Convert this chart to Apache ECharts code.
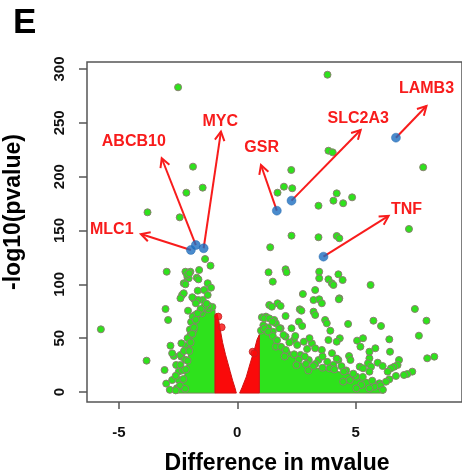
<!DOCTYPE html>
<html><head><meta charset="utf-8">
<script src="https://cdn.jsdelivr.net/npm/echarts@6/dist/echarts.min.js"></script>
<style>html,body{margin:0;padding:0;background:#fff}#c{width:462px;height:474px}</style>
</head><body><div id="c"></div>
<script>
// ---- tick labels ----
const xTicks = [-5, 0, 5];
const yTicks = [0, 50, 100, 150, 200, 250, 300];

// ---- highlighted genes ----
const geneNames = ['MLC1', 'ABCB10', 'MYC', 'GSR', 'SLC2A3', 'LAMB3', 'TNF'];
const geneX = [-1.96, -1.75, -1.42, 1.67, 2.29, 6.70, 3.64];
const geneY = [131.9, 136.5, 133.5, 168.4, 177.7, 236.2, 125.7];
const arrowTipX = [-4.07, -3.19, -0.69, 1.00, 5.21, 7.99, 6.39];
const arrowTipY = [146.7, 217.1, 241.8, 210.8, 243.3, 265.6, 163.5];
const labelX = [-5.30, -4.37, -0.72, 1.03, 5.11, 7.99, 7.15];
const labelY = [151.1, 233.0, 251.0, 226.9, 253.6, 282.1, 169.7];

// ---- significant (green) genes, sparse part ----
const greenPoints = [
  [-2.50,283.0],[3.81,294.7],[3.85,224.1],[4.03,222.6],[7.85,208.7],
  [-1.87,209.3],[-2.15,185.1],[-1.46,189.8],[-3.79,166.9],[-2.43,162.2],[-1.36,123.5],[-1.13,117.3],
  [-2.98,111.7],[-2.19,111.7],[-1.98,111.7],[-1.61,113.3],[-2.10,106.2],[-1.71,106.2],[-2.05,105.6],[-1.64,104.6],[-2.12,108.7],[-2.03,110.2],
  [-2.26,101.0],[-2.19,100.0],[-1.25,101.0],[-1.11,96.9],[-1.67,94.1],[-1.40,94.7],
  [-2.33,90.1],[-2.26,91.7],[-2.40,87.0],[-1.25,90.1],[-1.82,86.1],[-1.90,88.0],[-1.46,85.4],[-1.64,85.4],[-1.75,82.4],
  [-3.03,77.1],[-2.08,75.5],[-1.22,76.8],[-1.78,71.5],[-1.50,73.1],[-2.92,66.9],[-5.76,58.2],[-1.85,57.6],
  [-2.82,43.0],[-2.17,42.7],[-2.05,39.0],[-3.83,29.1],[-2.68,33.4],[-2.36,32.8],[-2.75,35.9],[-2.40,34.4],[-2.36,45.2],[-1.98,52.9],
  [-3.07,20.4],[-3.00,7.8],[-2.58,25.1],[-2.40,25.1],[-2.47,18.9],[-2.75,11.1],[-2.47,11.1],
  [-2.55,3.5],[-2.30,20.0],[-2.20,30.0],[-2.25,38.0],[-2.10,50.0],[-2.00,58.0],[-1.95,65.0],[-1.88,70.0],[-2.60,15.0],[-2.85,2.0],
  [-1.05,79.0],[-1.20,80.0],[-1.40,79.0],[-1.55,77.0],[-1.68,73.0],[-1.75,67.0],[-1.83,60.0],[-1.90,54.0],[-1.97,46.0],[-2.03,38.0],
  [-2.10,29.0],[-2.17,21.0],[-2.28,12.0],[-2.42,6.0],[-2.60,1.5],[-2.20,3.0],[-1.30,82.0],
  [2.28,206.2],[1.70,185.1],[1.97,190.7],[2.32,189.2],[3.43,173.0],[4.06,177.7],[4.20,184.5],[4.47,175.3],[4.85,180.8],[7.25,151.4],
  [2.29,145.2],[3.43,143.7],[4.20,144.9],[4.31,142.8],[1.39,134.4],
  [1.32,111.2],[1.50,102.5],[2.04,114.0],[2.08,111.2],[3.46,111.7],[3.46,105.6],[3.85,104.7],[3.99,101.0],[4.06,99.4],[4.27,109.3],[4.45,104.0],
  [5.63,99.4],[7.50,77.1],[4.31,87.0],[2.77,91.0],[3.29,94.7],[3.22,85.4],[3.46,86.1],[3.57,82.4],[4.29,86.1],[2.64,76.8],
  [1.35,80.8],[1.46,79.2],[1.70,82.4],[1.83,79.9],
  [1.04,69.4],[1.21,70.0],[1.56,66.9],[1.63,63.8],[2.04,70.6],[2.71,75.5],[3.22,74.6],[3.29,71.5],[2.60,65.3],[1.83,59.2],[2.29,59.2],[2.74,61.3],
  [3.71,66.9],[3.78,63.8],[3.93,56.9],[4.33,49.9],[2.04,51.4],[2.39,48.3],[2.53,43.7],[2.81,46.7],[3.15,45.2],[3.29,40.6],[3.57,39.0],[3.85,48.3],
  [1.63,42.1],[2.11,35.9],[3.02,29.7],[3.43,29.7],[2.67,34.4],[4.06,25.1],
  [1.14,68.4],[1.35,68.4],[1.49,65.3],[1.77,59.2],
  [7.99,66.2],[5.75,66.2],[6.07,61.3],[4.68,63.2],[7.67,52.3],[4.20,46.7],[5.06,47.7],[5.20,42.1],[6.42,48.9],[5.83,40.6],[6.45,37.4],
  [8.02,31.3],[8.32,32.8],[4.72,33.4],[4.78,29.7],[4.27,29.7],[5.58,31.3],[5.52,26.7],[5.93,27.2],[6.14,24.1],[6.83,29.7],[6.77,25.1],
  [6.63,23.5],[6.49,22.0],[6.35,18.9],[5.17,23.5],[5.31,22.0],[5.65,23.5],[5.58,18.9],[7.39,18.9],[7.18,16.7],[7.04,15.8],[6.70,14.9],
  [6.42,11.8],[6.28,9.6],[6.00,8.1],[5.80,4.9],[5.58,3.4],[5.03,14.2],[4.75,11.1],[4.47,9.6],[5.24,6.5],[5.03,3.4],
  [1.10,62.0],[1.30,60.0],[1.50,56.0],[1.95,53.0],[2.20,46.0],[2.45,52.0],[2.95,40.0],[3.05,50.0],[3.60,33.0],[3.80,28.0],[4.00,36.0],
  [4.20,31.0],[4.40,24.0],[3.30,26.0],[2.85,33.0],[3.90,22.0],[4.60,20.0],[5.31,49.9],[5.58,37.4],
  [1.00,57.0],[1.15,59.0],[1.30,56.0],[1.50,52.0],[1.68,48.0],[1.85,42.0],[2.05,39.0],[2.40,35.0],[2.60,30.0],[2.90,26.0],[3.20,24.0],
  [3.60,22.5],[4.10,21.0],[4.50,19.0],[4.90,17.0],[5.30,14.0],[5.70,10.5],[6.05,6.0],[6.15,2.0],[3.00,20.0],[2.50,25.0],[2.00,33.0]
];
// ---- dense cores (outline of the packed point clouds) ----
const greenCoreLeft = [[-0.94,-1],[-0.94,76],[-1.10,78],[-1.35,78],[-1.60,76],[-1.72,70],[-1.82,62],[-1.92,52],[-2.00,42],[-2.08,32],[-2.15,22],[-2.25,13],[-2.40,6],[-2.60,1],[-2.65,-1]];
const greenCoreRight = [[0.93,-1],[0.93,55],[1.10,57],[1.25,55],[1.45,51],[1.63,47],[1.80,41],[1.95,38],[2.30,34],[2.70,27],[3.10,23],[3.50,21.5],[4.00,20],[4.60,17.5],[5.00,15.5],[5.50,11.5],[5.90,8.5],[6.10,4],[6.20,-1]];
const redCoreLeft = [[-0.94,-1],[-0.94,72],[-0.86,73],[-0.78,66],[-0.72,58],[-0.62,46],[-0.50,35],[-0.40,27],[-0.30,19],[-0.20,11],[-0.10,4],[-0.04,-1]];
const redCoreRight = [[0.10,-1],[0.20,4],[0.38,14],[0.55,27],[0.72,39],[0.84,49],[0.93,53],[0.93,-1]];
// ---- non-significant (red) genes, sparse part ----
const redPoints = [[-0.66,60.1],[-0.80,70.0],[0.65,37.4],[0.72,35.9]];

const FONT = '"Liberation Sans", Arial, Helvetica, sans-serif';
const chart = echarts.init(document.getElementById('c'));

function polySeries(pts, fill, stroke, z) {
  return {
    type: 'custom', coordinateSystem: 'cartesian2d', data: [[pts[0][0], pts[0][1]]], silent: true, clip: false, z: z,
    renderItem: (params, api) => ({
      type: 'polygon',
      shape: { points: pts.map(p => api.coord(p)) },
      style: { fill: fill, stroke: stroke, lineWidth: 1 }
    })
  };
}

const arrowData = geneNames.map((n, i) => [geneX[i], geneY[i], arrowTipX[i], arrowTipY[i], labelX[i], labelY[i]]);

chart.setOption({
  animation: false,
  backgroundColor: '#fff',
  grid: { left: 87, top: 62, width: 380, height: 340, show: true, borderColor: '#555', borderWidth: 1.5, backgroundColor: 'transparent' },
  xAxis: {
    type: 'value', min: -6.346, max: 9.49,
    axisLine: { show: false, onZero: false }, splitLine: { show: false },
    axisTick: { show: true, customValues: xTicks, length: 7, lineStyle: { color: '#555', width: 1.5 } },
    axisLabel: { customValues: xTicks, fontSize: 15, fontWeight: 'bold', color: '#111', fontFamily: FONT, margin: 23 }
  },
  yAxis: {
    type: 'value', min: -9.3, max: 306.5,
    axisLine: { show: false, onZero: false }, splitLine: { show: false },
    axisTick: { show: true, customValues: yTicks, length: 8, lineStyle: { color: '#555', width: 1.5 } },
    axisLabel: { customValues: yTicks, rotate: 90, fontSize: 15, fontWeight: 'bold', color: '#111', fontFamily: FONT, margin: 20 }
  },
  graphic: [
    { type: 'text', left: 13, top: 6, style: { text: 'E', font: 'bold 35px ' + FONT, fill: '#000' } },
    { type: 'text', x: 14, y: 212, rotation: Math.PI / 2, style: { text: '-log10(pvalue)', font: 'bold 23px ' + FONT, fill: '#000', align: 'center', verticalAlign: 'middle' } },
    { type: 'text', x: 277, y: 464, style: { text: 'Difference in mvalue', font: 'bold 23px ' + FONT, fill: '#000', align: 'center', verticalAlign: 'middle' } }
  ],
  series: [
    polySeries(greenCoreLeft, '#2ee21c', '#6f8a50', 1),
    polySeries(greenCoreRight, '#2ee21c', '#6f8a50', 1),
    {
      type: 'scatter', data: greenPoints, symbolSize: 7, z: 2,
      itemStyle: { color: '#2ee21c', borderColor: '#8a8070', borderWidth: 1, opacity: 1 }
    },
    polySeries(redCoreLeft, '#fa0a0a', '#d01010', 3),
    polySeries(redCoreRight, '#fa0a0a', '#d01010', 3),
    {
      type: 'scatter', data: redPoints, symbolSize: 7, z: 3,
      itemStyle: { color: '#fa0a0a', borderColor: '#c02020', borderWidth: 1 }
    },
    {
      type: 'custom', coordinateSystem: 'cartesian2d', data: arrowData, clip: false, z: 5, silent: true,
      encode: { x: 0, y: 1 },
      renderItem: (params, api) => {
        const p0 = api.coord([api.value(0), api.value(1)]);
        const p1 = api.coord([api.value(2), api.value(3)]);
        const pl = api.coord([api.value(4), api.value(5)]);
        const ang = Math.atan2(p1[1] - p0[1], p1[0] - p0[0]);
        const L = 10, a = 0.5;
        const h1 = [p1[0] - L * Math.cos(ang - a), p1[1] - L * Math.sin(ang - a)];
        const h2 = [p1[0] - L * Math.cos(ang + a), p1[1] - L * Math.sin(ang + a)];
        const red = '#f81c1c';
        return {
          type: 'group', children: [
            { type: 'line', shape: { x1: p0[0], y1: p0[1], x2: p1[0], y2: p1[1] }, style: { stroke: red, lineWidth: 2 } },
            { type: 'polyline', shape: { points: [h1, p1, h2] }, style: { stroke: red, lineWidth: 2, fill: null } },
            { type: 'text', x: pl[0], y: pl[1], style: { text: geneNames[params.dataIndex], font: 'bold 16px ' + FONT, fill: red, align: 'center', verticalAlign: 'middle' } }
          ]
        };
      }
    },
    {
      type: 'scatter', data: geneX.map((x, i) => [x, geneY[i]]), symbolSize: 9, z: 6,
      itemStyle: { color: '#1b6ec0', borderColor: '#1b5fa5', borderWidth: 0.5 }
    }
  ]
});
</script></body></html>
